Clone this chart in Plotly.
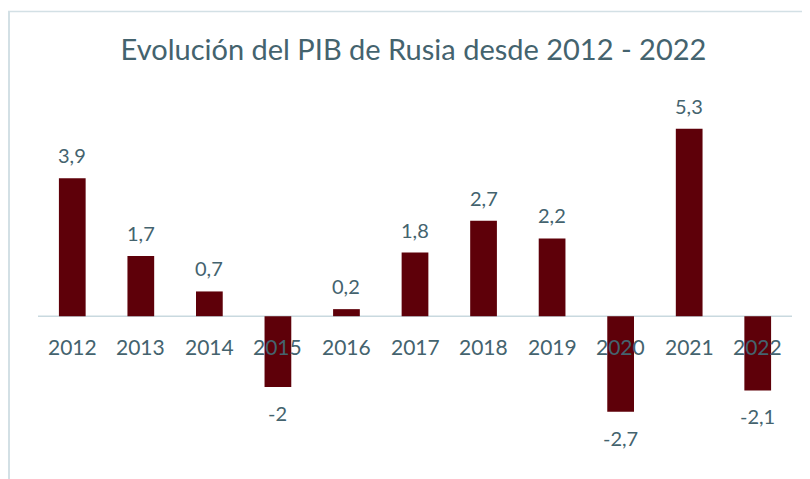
import plotly.graph_objects as go

years = ["2012", "2013", "2014", "2015", "2016", "2017", "2018", "2019", "2020", "2021", "2022"]
gdp_growth = [3.9, 1.7, 0.7, -2.0, 0.2, 1.8, 2.7, 2.2, -2.7, 5.3, -2.1]
value_labels = ["3,9", "1,7", "0,7", "-2", "0,2", "1,8", "2,7", "2,2", "-2,7", "5,3", "-2,1"]
title_text = "Evolución del PIB de Rusia desde 2012 - 2022"

BAR = "#5E0009"
TXT = "#44636E"
FONT = "Lato"

fig = go.Figure()
fig.add_trace(go.Bar(
    x=years, y=gdp_growth,
    marker=dict(color=BAR, line=dict(width=0)),
    width=0.39,
    hoverinfo="skip",
))

annotations = []
for i, (yr, v, lab) in enumerate(zip(years, gdp_growth, value_labels)):
    annotations.append(dict(
        x=i, y=v, xref="x", yref="y", text=lab, showarrow=False,
        yanchor="middle", yshift=23 if v >= 0 else -26,
        font=dict(family=FONT, size=20, color=TXT),
    ))
    annotations.append(dict(
        x=i, y=0, xref="x", yref="y", text=yr, showarrow=False,
        yanchor="middle", yshift=-30,
        font=dict(family=FONT, size=21, color=TXT),
    ))

# page renders with an 8px body offset; layout values are in figure pixels
OFF = 8
W, H = 810, 479
L, R, T, B = 30, 26, 96, 47
pw, ph = W - L - R, H - T - B

def px_to_paper_x(px):
    return (px - OFF - L) / pw

def px_to_paper_y(py):
    return (H - B - (py - OFF)) / ph

frame = "#D3E0E5"
shapes = [
    dict(type="line", xref="paper", yref="paper",
         x0=px_to_paper_x(9), x1=px_to_paper_x(9),
         y0=px_to_paper_y(11.5), y1=px_to_paper_y(500),
         line=dict(color=frame, width=2)),
    dict(type="line", xref="paper", yref="paper",
         x0=px_to_paper_x(8), x1=px_to_paper_x(830),
         y0=px_to_paper_y(11.5), y1=px_to_paper_y(11.5),
         line=dict(color=frame, width=1.5)),
    dict(type="line", xref="paper", yref="y",
         x0=0, x1=1, y0=0, y1=0,
         line=dict(color="#C9D9DF", width=1.5), layer="below"),
]

fig.update_layout(
    width=W, height=H,
    margin=dict(l=L, r=R, t=T, b=B),
    paper_bgcolor="white", plot_bgcolor="white",
    title=dict(text=title_text, x=(413.5 - OFF) / W, xanchor="center",
               y=1 - (50 - OFF) / H, yanchor="middle",
               yref="container", font=dict(family=FONT, size=29, color=TXT)),
    xaxis=dict(type="category", range=[-0.5, len(years) - 0.5], showticklabels=False,
               showgrid=False, zeroline=False, showline=False, ticks=""),
    yaxis=dict(range=[-3.5, 6], showticklabels=False, showgrid=False, zeroline=False,
               showline=False, ticks=""),
    showlegend=False,
    annotations=annotations,
    shapes=shapes,
)

fig.write_html("out.html")
